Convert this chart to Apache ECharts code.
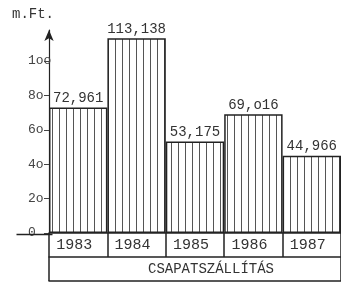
<!DOCTYPE html>
<html><head><meta charset="utf-8">
<script src="https://cdn.jsdelivr.net/npm/echarts@6/dist/echarts.min.js"></script>
<style>html,body{margin:0;padding:0;background:#fff}#c{width:341px;height:284px}</style>
</head><body><div id="c"></div>
<script>
var categories = ['1983', '1984', '1985', '1986', '1987'];
var values = [72.961, 113.138, 53.175, 69.016, 44.966];
var valueLabels = ['72,961', '113,138', '53,175', '69,o16', '44,966'];
var tickValues = [0, 20, 40, 60, 80, 100];
var tickLabels = ['0', '2o', '4o', '6o', '8o', '1oo'];
var unitLabel = 'm.Ft.';
var groupLabel = 'CSAPATSZÁLLÍTÁS';

var FONT = '"Liberation Mono", "DejaVu Sans Mono", monospace';
var INK = '#222';

// vertical hatching pattern
var pc = document.createElement('canvas');
pc.width = 7; pc.height = 10;
var pctx = pc.getContext('2d');
pctx.fillStyle = '#fff'; pctx.fillRect(0, 0, 7, 10);
pctx.fillStyle = '#555'; pctx.fillRect(3, 0, 1, 10);

var chart = echarts.init(document.getElementById('c'), null, {renderer: 'canvas'});
chart.setOption({
  animation: false,
  backgroundColor: '#fff',
  title: {text: unitLabel, left: 7, top: 2,
    textStyle: {fontFamily: FONT, fontSize: 14, fontWeight: 'normal', color: '#333'}},
  grid: {left: 49, top: 30, width: 295, height: 203},
  xAxis: [{
    type: 'category', data: categories, position: 'bottom',
    axisLine: {lineStyle: {color: INK, width: 1.5}},
    axisTick: {show: true, length: 24, lineStyle: {color: INK, width: 1.5}},
    axisLabel: {margin: 5, fontFamily: FONT, fontSize: 15, color: '#333', padding: [0, 8, 0, 0]}
  }, {
    type: 'value', min: 0, max: 1, interval: 1, position: 'bottom', offset: 24,
    axisLine: {show: true, lineStyle: {color: INK, width: 1.5}},
    axisTick: {show: true, length: 24, lineStyle: {color: INK, width: 1.5}},
    axisLabel: {show: false}, splitLine: {show: false},
    name: groupLabel, nameLocation: 'middle', nameGap: 5,
    nameTextStyle: {fontFamily: FONT, fontSize: 14, color: '#333', padding: [0, 0, 0, 32]}
  }, {
    type: 'value', min: 0, max: 1, interval: 1, position: 'bottom', offset: 48,
    axisLine: {show: true, lineStyle: {color: INK, width: 1.5}},
    axisTick: {show: false}, axisLabel: {show: false}, splitLine: {show: false}
  }],
  yAxis: {
    type: 'value', min: 0, max: 118, interval: 20, offset: 27,
    axisLine: {show: true, symbol: ['none', 'arrow'], symbolSize: [7, 11],
      lineStyle: {color: INK, width: 1.2}},
    axisTick: {show: true, length: 5, lineStyle: {color: '#444'}},
    splitLine: {show: false},
    axisLabel: {inside: true, margin: 6, showMaxLabel: false,
      fontFamily: FONT, fontSize: 13, color: '#444',
      formatter: function (v) { var i = tickValues.indexOf(v); return i >= 0 ? tickLabels[i] : ''; }}
  },
  graphic: [{
    type: 'line', left: 14, top: 232, z: 10,
    shape: {x1: 0, y1: 0, x2: 36, y2: 0},
    style: {stroke: INK, lineWidth: 1.5}
  }],
  series: [{
    type: 'bar', data: values, barCategoryGap: '0%', xAxisIndex: 0,
    itemStyle: {color: {image: pc, repeat: 'repeat'}, borderColor: INK, borderWidth: 1.5},
    label: {show: true, position: 'top', distance: 2,
      fontFamily: FONT, fontSize: 14, color: '#333',
      formatter: function (p) { return valueLabels[p.dataIndex]; }}
  }]
});
</script></body></html>
